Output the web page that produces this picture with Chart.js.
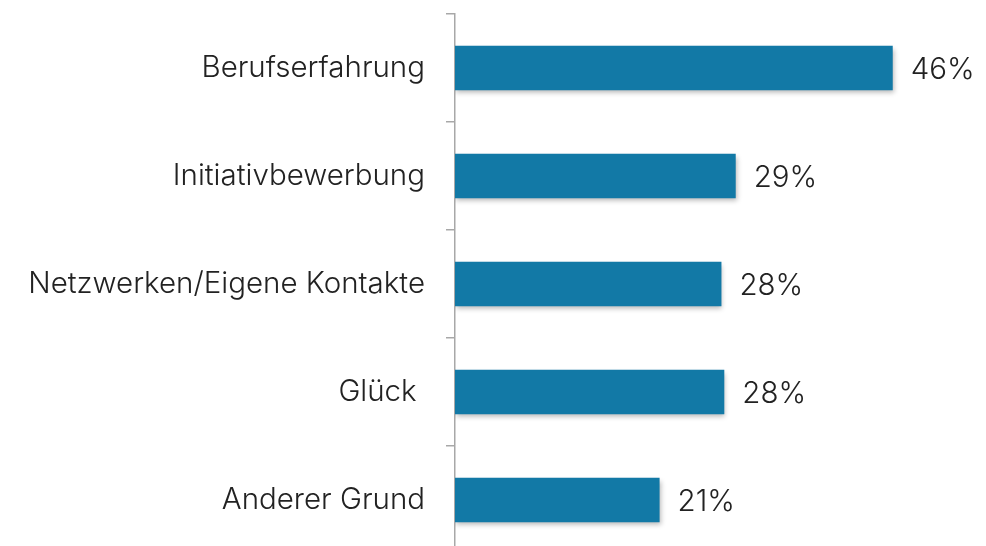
<!DOCTYPE html>
<html>
<head>
<meta charset="utf-8">
<script src="https://cdn.jsdelivr.net/npm/chart.js@4/dist/chart.umd.min.js"></script>
<style>
  html, body { margin: 0; padding: 0; background: #fff; overflow: hidden; }
  #wrap { position: relative; width: 986px; height: 560px; }
</style>
</head>
<body>
<div id="wrap"><canvas id="c" width="986" height="560"></canvas></div>
<script>
const categories = ["Berufserfahrung", "Initiativbewerbung", "Netzwerken/Eigene Kontakte", "Glück ", "Anderer Grund"];
const values = [46, 29.5, 28, 28.3, 21.5];
const valueLabels = ["46%", "29%", "28%", "28%", "21%"];

const FONT = "Inter, 'Liberation Sans', Arial, sans-serif";

const shadowPlugin = {
  id: 'barShadow',
  beforeDatasetsDraw(chart) {
    const ctx = chart.ctx;
    ctx.save();
    ctx.shadowColor = 'rgba(0,0,0,0.28)';
    ctx.shadowBlur = 5;
    ctx.shadowOffsetX = 1;
    ctx.shadowOffsetY = 3;
  },
  afterDatasetsDraw(chart) {
    chart.ctx.restore();
  }
};

const valueLabelPlugin = {
  id: 'valueLabels',
  afterDatasetsDraw(chart) {
    const ctx = chart.ctx;
    const meta = chart.getDatasetMeta(0);
    ctx.save();
    ctx.font = "300 29.5px " + FONT;
    ctx.fillStyle = '#222';
    ctx.textAlign = 'left';
    ctx.textBaseline = 'middle';
    meta.data.forEach((bar, i) => {
      ctx.fillText(valueLabels[i], bar.x + 18, bar.y + 2);
    });
    ctx.restore();
  }
};

new Chart(document.getElementById('c'), {
  type: 'bar',
  data: {
    labels: categories,
    datasets: [{
      data: values,
      backgroundColor: '#1279a6',
      borderWidth: 0,
      categoryPercentage: 1,
      barPercentage: 0.41
    }]
  },
  options: {
    indexAxis: 'y',
    responsive: false,
    animation: false,
    layout: { padding: { top: 14, bottom: 6, left: 0, right: 0 } },
    plugins: { legend: { display: false }, tooltip: { enabled: false } },
    scales: {
      x: {
        display: false,
        min: 0,
        max: 55.8
      },
      y: {
        offset: true,
        afterFit(scale) {
          scale.width = 455;
          scale.paddingTop = 0;
          scale.paddingBottom = 0;
        },
        border: { display: true, color: '#a8a8a8', width: 1.5 },
        grid: {
          offset: true,
          drawOnChartArea: false,
          drawTicks: true,
          tickLength: 9,
          color: '#a8a8a8',
          lineWidth: 1.5
        },
        ticks: {
          padding: 21,
          color: '#222',
          font: { family: FONT, size: 29.5, weight: 300 }
        }
      }
    }
  },
  plugins: [shadowPlugin, valueLabelPlugin]
});
</script>
</body>
</html>
